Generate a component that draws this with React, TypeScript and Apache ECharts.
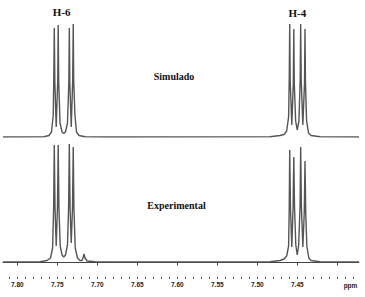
import React, { useEffect, useRef } from "react";
import * as echarts from "echarts";

// Simulated spectrum: chemical shift (ppm) and relative intensity (arbitrary units)
const simPpm = [
  7.8179, 7.7666, 7.7604, 7.7573, 7.7551, 7.7544, 7.7538, 7.7531, 7.7514, 7.7495, 7.7489, 7.7483,
  7.7466, 7.7441, 7.742, 7.7398, 7.7373, 7.7356, 7.735, 7.7344, 7.7326, 7.7308, 7.7301, 7.7295,
  7.728, 7.726, 7.7229, 7.7154, 7.69,
  7.4841, 7.4716, 7.4666, 7.4633, 7.4609, 7.4601, 7.4595, 7.4589, 7.4569, 7.455, 7.4544, 7.4538,
  7.4521, 7.4501, 7.448, 7.4464, 7.4458, 7.4451, 7.4431, 7.441, 7.4404, 7.4398, 7.4384, 7.436,
  7.4329, 7.4216, 7.3729,
];
const simInt = [
  0, 0.3, 1.5, 5, 22, 60, 109, 55, 10, 56, 112, 56,
  14, 5, 3.5, 5, 14, 55, 109, 55, 10, 56, 113, 56,
  22, 5, 1.5, 0.3, 0,
  0.3, 1.5, 2.5, 6, 20, 58, 113, 56, 12, 54, 108, 54,
  16, 7, 16, 58, 113, 56, 12, 54, 108, 54, 16, 4,
  1.5, 0.3, 0,
];

// Experimental spectrum
const expPpm = [
  7.8179, 7.7716, 7.7629, 7.7585, 7.7559, 7.7546, 7.7538, 7.7529, 7.7514, 7.7498, 7.7489, 7.748,
  7.7464, 7.7441, 7.742, 7.7398, 7.7373, 7.7359, 7.735, 7.7341, 7.7326, 7.731, 7.7301, 7.7293,
  7.7276, 7.7248, 7.7216, 7.7191, 7.7179, 7.7166, 7.7154, 7.7129, 7.7029, 7.6841,
  7.4841, 7.4716, 7.4666, 7.4633, 7.4609, 7.4601, 7.4595, 7.4586, 7.4569, 7.4553, 7.4544, 7.4535,
  7.4519, 7.4501, 7.4483, 7.4466, 7.4458, 7.4449, 7.4431, 7.4413, 7.4404, 7.4395, 7.4381, 7.4356,
  7.4329, 7.4216, 7.3729,
];
const expInt = [
  0, 0.3, 1.5, 4, 14, 55, 117, 55, 16, 55, 117, 55,
  16, 7, 5, 7, 17, 55, 118, 55, 19, 55, 115, 55,
  14, 4, 1.5, 1.5, 4, 8, 4, 1, 0.3, 0,
  0.3, 1.5, 3, 6, 16, 55, 112, 55, 15, 55, 105, 55,
  17, 7, 17, 55, 115, 55, 15, 50, 101, 50, 16, 4,
  1.5, 0.3, 0,
];

const majorTicks = [7.8, 7.75, 7.7, 7.65, 7.6, 7.55, 7.5, 7.45, 7.4];
const tickLabels = ["7.80", "7.75", "7.70", "7.65", "7.60", "7.55", "7.50", "7.45"];
const minorTicks = [
  7.81, 7.8, 7.79, 7.78, 7.77, 7.76, 7.75, 7.74, 7.73, 7.72, 7.71, 7.7, 7.69, 7.68, 7.67, 7.66,
  7.65, 7.64, 7.63, 7.62, 7.61, 7.6, 7.59, 7.58, 7.57, 7.56, 7.55, 7.54, 7.53, 7.52, 7.51, 7.5,
  7.49, 7.48, 7.47, 7.46, 7.45, 7.44, 7.43, 7.42, 7.41, 7.4, 7.39, 7.38,
];
const ppmMin = 7.3729;
const ppmMax = 7.8179;
const simMax = 113;
const expMax = 118;

const lineColor = "#555555";

export default function App() {
  const ref = useRef<HTMLDivElement>(null);
  useEffect(() => {
    if (!ref.current) return;
    const chart = echarts.init(ref.current, undefined, { renderer: "svg" });
    const sim = simPpm.map((p, i) => [p, simInt[i]]);
    const exp = expPpm.map((p, i) => [p, expInt[i]]);
    const serif = '"Liberation Serif", "Times New Roman", serif';
    const sans = '"Liberation Sans", Arial, sans-serif';
    const baseX = {
      type: "value",
      min: ppmMin,
      max: ppmMax,
      inverse: true,
      splitLine: { show: false },
    };
    chart.setOption({
      animation: false,
      backgroundColor: "#ffffff",
      grid: [
        { left: 3, right: 6, top: 24, height: 113 },
        { left: 3, right: 6, top: 144, height: 118 },
      ],
      xAxis: [
        { ...baseX, gridIndex: 0, show: false },
        {
          ...baseX,
          gridIndex: 1,
          position: "bottom",
          offset: 15,
          axisLine: { show: true, lineStyle: { color: "#444", width: 1 } },
          axisTick: { show: true, customValues: majorTicks, length: 3.5, lineStyle: { color: "#444" } },
          axisLabel: {
            show: true,
            customValues: majorTicks.slice(0, tickLabels.length),
            formatter: (v: number) => {
              const i = majorTicks.findIndex((t) => Math.abs(t - v) < 1e-6);
              return i >= 0 && i < tickLabels.length ? tickLabels[i] : "";
            },
            fontSize: 6.5,
            fontWeight: "bold",
            fontFamily: sans,
            color: "#222",
            margin: 4,
          },
        },
        {
          ...baseX,
          gridIndex: 1,
          position: "bottom",
          offset: 15,
          axisLine: { show: false },
          axisTick: { show: true, customValues: minorTicks, length: 2, lineStyle: { color: "#555" } },
          axisLabel: { show: false },
        },
      ],
      yAxis: [
        { type: "value", gridIndex: 0, min: 0, max: simMax, show: false, splitLine: { show: false } },
        { type: "value", gridIndex: 1, min: 0, max: expMax, show: false, splitLine: { show: false } },
      ],
      series: [
        {
          name: "Simulado",
          type: "line",
          xAxisIndex: 0,
          yAxisIndex: 0,
          data: sim,
          showSymbol: false,
          lineStyle: { color: lineColor, width: 1.4 },
        },
        {
          name: "Experimental",
          type: "line",
          xAxisIndex: 1,
          yAxisIndex: 1,
          data: exp,
          showSymbol: false,
          lineStyle: { color: lineColor, width: 1.4 },
        },
      ],
      graphic: [
        { type: "text", x: 61.7, y: 12, style: { text: "H-6", fontSize: 11, fontWeight: "bold", fontFamily: serif, fill: "#111", align: "center", verticalAlign: "middle", textAlign: "center", textVerticalAlign: "middle" } },
        { type: "text", x: 297.3, y: 13, style: { text: "H-4", fontSize: 11, fontWeight: "bold", fontFamily: serif, fill: "#111", align: "center", verticalAlign: "middle", textAlign: "center", textVerticalAlign: "middle" } },
        { type: "text", x: 174, y: 76, style: { text: "Simulado", fontSize: 10, fontWeight: "bold", fontFamily: serif, fill: "#111", align: "center", verticalAlign: "middle", textAlign: "center", textVerticalAlign: "middle" } },
        { type: "text", x: 176.5, y: 205, style: { text: "Experimental", fontSize: 10, fontWeight: "bold", fontFamily: serif, fill: "#111", align: "center", verticalAlign: "middle", textAlign: "center", textVerticalAlign: "middle" } },
        { type: "text", x: 350.5, y: 285.5, style: { text: "ppm", fontSize: 6.5, fontWeight: "bold", fontFamily: sans, fill: "#222", align: "center", verticalAlign: "middle", textAlign: "center", textVerticalAlign: "middle" } },
      ],
    });
    return () => chart.dispose();
  }, []);
  return (
    <div
      ref={ref}
      style={{ position: "fixed", left: 0, top: 0, width: 365, height: 297, background: "#fff" }}
    />
  );
}
